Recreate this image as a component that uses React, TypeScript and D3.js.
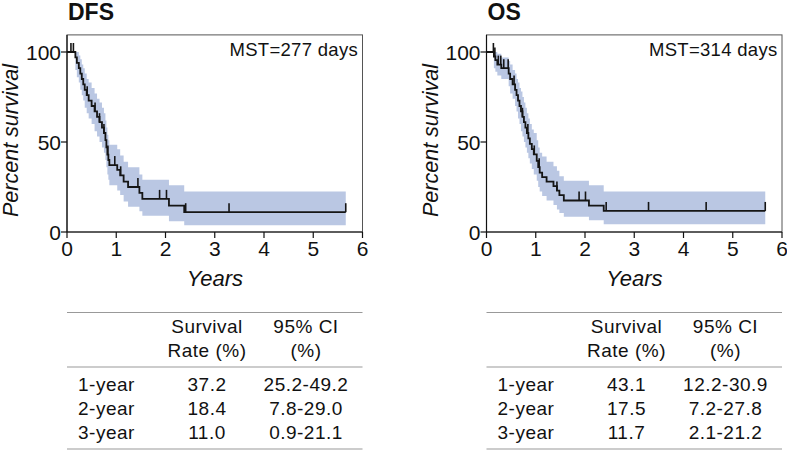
import React from "react";
import * as d3 from "d3";

const FONT = "'Liberation Sans', Arial, Helvetica, sans-serif";

// ---- DFS data ----
const dfsTimes = [0, 0.17, 0.2, 0.24, 0.27, 0.3, 0.33, 0.36, 0.4, 0.44, 0.5, 0.56, 0.61, 0.66, 0.71, 0.75, 0.78, 0.8, 0.82, 0.84, 0.86, 1.02, 1.08, 1.15, 1.24, 1.47, 1.53, 2.07, 2.38];
const dfsSurv = [100, 97, 94, 91, 88, 85, 82, 79, 76, 73, 70, 67, 64, 61, 58, 55, 51, 47, 43, 40, 37.2, 34.5, 31.5, 28, 25, 21.7, 18.4, 14.6, 11.0];
const dfsLower = [100, 90, 86, 83, 79, 76, 73, 69, 66, 63, 60, 56, 53, 50, 47, 44, 40, 36, 32, 29, 26, 23, 20.5, 17, 14, 11.5, 9, 6, 3.8];
const dfsUpper = [100, 100, 100, 98, 96, 93, 91, 88, 85, 83, 80, 77, 74, 72, 69, 66, 62, 58, 54, 51, 48.5, 46, 42.5, 39, 36, 32, 29, 26, 22.5];
const dfsCensor = [0.08, 0.13, 0.41, 0.57, 0.66, 0.75, 0.83, 0.97, 1.09, 1.44, 1.88, 2.02, 2.41, 3.29, 5.66];
const dfsEnd = 5.66;

// ---- OS data ----
const osTimes = [0, 0.15, 0.18, 0.22, 0.3, 0.45, 0.48, 0.53, 0.58, 0.61, 0.64, 0.67, 0.7, 0.73, 0.76, 0.79, 0.82, 0.85, 0.88, 0.92, 0.96, 1.02, 1.05, 1.08, 1.13, 1.22, 1.36, 1.43, 1.48, 1.57, 2.08, 2.38];
const osSurv = [100, 97.5, 95.5, 93, 91, 88, 85, 82, 79, 76, 73, 70, 67, 64, 61, 58, 55, 52, 49, 46, 43.1, 39.5, 36, 33, 30.5, 28, 25.5, 23, 20.5, 17.5, 14.6, 11.7];
const osLower = [100, 91, 89, 87, 85, 81, 77, 74, 70, 67, 63, 60, 56, 53, 50, 47, 44, 41, 38, 35, 32, 28.5, 25, 22.5, 20, 17.5, 15, 12.5, 10.5, 8.5, 6.5, 4.3];
const osUpper = [100, 100, 100, 99, 97, 95, 93, 90, 88, 85, 83, 80, 78, 75, 72, 69, 66, 63, 60, 57, 55, 51, 47, 44, 42, 39, 36.5, 34, 31, 28.5, 26, 22.5];
const osCensor = [0.14, 0.17, 0.24, 0.29, 0.35, 0.44, 0.56, 0.73, 0.84, 0.97, 1.07, 1.43, 1.88, 2.01, 2.43, 3.29, 4.46, 5.66];
const osEnd = 5.66;

// ---- ticks ----
const xTicks = [0, 1, 2, 3, 4, 5, 6];
const yTicks = [0, 50, 100];

// ---- tables ----
const rowLabels = ["1-year", "2-year", "3-year"];
const dfsRates = ["37.2", "18.4", "11.0"];
const dfsCI = ["25.2-49.2", "7.8-29.0", "0.9-21.1"];
const osRates = ["43.1", "17.5", "11.7"];
const osCI = ["12.2-30.9", "7.2-27.8", "2.1-21.2"];

type Pt = { t: number; s: number; lo: number; hi: number };

function Panel(props: {
  title: string; mst: string; times: number[]; surv: number[]; lower: number[]; upper: number[];
  censor: number[]; endT: number; x0: number; rates: string[]; cis: string[];
}) {
  const { title, mst, times, surv, lower, upper, censor, endT, x0, rates, cis } = props;
  const x = d3.scaleLinear().domain([0, 6]).range([x0, x0 + 295.5]);
  const y = d3.scaleLinear().domain([0, 100]).range([232, 52]);
  const pts: Pt[] = times.map((t, i) => ({ t, s: surv[i], lo: lower[i], hi: upper[i] }));
  const last = pts[pts.length - 1];
  pts.push({ t: endT, s: last.s, lo: last.lo, hi: last.hi });
  const line = d3.line<Pt>().x(d => x(d.t)).y(d => y(d.s)).curve(d3.curveStepAfter);
  const area = d3.area<Pt>().x(d => x(d.t)).y0(d => y(d.lo)).y1(d => y(d.hi)).curve(d3.curveStepAfter);
  const survAt = (t: number) => {
    const i = d3.bisectRight(times, t) - 1;
    return surv[Math.max(0, i)];
  };
  const frameTop = y(109.5);
  const right = x(6);
  const tblL = x0;
  const tblR = right;
  const c1 = x0 + 11;
  const c2 = x0 + 140;
  const c3 = x0 + 239;
  const rowY = [390.5, 414.5, 438.5];
  const ls = 0.5;
  return (
    <g fontFamily={FONT}>
      <text x={x0 + 1} y={20} fontSize={23} fontWeight="bold" fill="#111">{title}</text>
      <rect x={x0} y={frameTop} width={right - x0} height={y(0) - frameTop} fill="none" stroke="#555" strokeWidth={1} />
      <path d={area(pts) || ""} fill="#bac7e3" stroke="none" />
      <path d={line(pts) || ""} fill="none" stroke="#151515" strokeWidth={1.8} />
      {censor.map((c, i) => (
        <line key={i} x1={x(c)} x2={x(c)} y1={y(survAt(c))} y2={y(survAt(c)) - 9} stroke="#151515" strokeWidth={1.6} />
      ))}
      <line x1={x0} x2={x0} y1={frameTop} y2={y(0)} stroke="#111" strokeWidth={1.2} />
      <line x1={x0} x2={right} y1={y(0)} y2={y(0)} stroke="#111" strokeWidth={1.2} />
      {yTicks.map(v => (
        <g key={v}>
          <line x1={x0 - 6} x2={x0} y1={y(v)} y2={y(v)} stroke="#111" strokeWidth={1.2} />
          <text x={x0 - 6} y={y(v) + 7.5} fontSize={21} textAnchor="end" fill="#111">{v}</text>
        </g>
      ))}
      {xTicks.map(v => (
        <g key={v}>
          <line x1={x(v)} x2={x(v)} y1={y(0)} y2={y(0) + 6} stroke="#111" strokeWidth={1.2} />
          <text x={x(v)} y={256} fontSize={21} textAnchor="middle" fill="#111">{v}</text>
        </g>
      ))}
      <text x={x0 + 291} y={56} fontSize={18.5} letterSpacing={0.3} textAnchor="end" fill="#111">{mst}</text>
      <text transform={`translate(${x0 - 49},140.5) rotate(-90)`} fontSize={21.5} fontStyle="italic" textAnchor="middle" fill="#111">Percent survival</text>
      <text x={x0 + 148} y={286} fontSize={22} fontStyle="italic" textAnchor="middle" fill="#111">Years</text>
      {/* table */}
      <line x1={tblL} x2={tblR} y1={312.5} y2={312.5} stroke="#999" strokeWidth={1.2} />
      <line x1={tblL} x2={tblR} y1={367} y2={367} stroke="#999" strokeWidth={1.2} />
      <line x1={tblL} x2={tblR} y1={449} y2={449} stroke="#999" strokeWidth={1.2} />
      <text x={c2} y={333} fontSize={19} letterSpacing={ls} textAnchor="middle" fill="#111">Survival</text>
      <text x={c2} y={357} fontSize={19} letterSpacing={ls} textAnchor="middle" fill="#111">Rate (%)</text>
      <text x={c3} y={333} fontSize={19} letterSpacing={ls} textAnchor="middle" fill="#111">95% CI</text>
      <text x={c3} y={357} fontSize={19} letterSpacing={ls} textAnchor="middle" fill="#111">(%)</text>
      {rowLabels.map((r, i) => (
        <g key={r}>
          <text x={c1} y={rowY[i]} fontSize={19} letterSpacing={ls} fill="#111">{r}</text>
          <text x={c2} y={rowY[i]} fontSize={19} letterSpacing={ls} textAnchor="middle" fill="#111">{rates[i]}</text>
          <text x={c3} y={rowY[i]} fontSize={19} letterSpacing={ls} textAnchor="middle" fill="#111">{cis[i]}</text>
        </g>
      ))}
    </g>
  );
}

export default function App() {
  return (
    <div style={{ position: "fixed", left: 0, top: 0, width: 787, height: 450, background: "#fff" }}>
      <svg width={787} height={450} viewBox="0 0 787 450">
        <rect width={787} height={450} fill="#fff" />
        <Panel title="DFS" mst="MST=277 days" times={dfsTimes} surv={dfsSurv} lower={dfsLower} upper={dfsUpper}
          censor={dfsCensor} endT={dfsEnd} x0={67} rates={dfsRates} cis={dfsCI} />
        <Panel title="OS" mst="MST=314 days" times={osTimes} surv={osSurv} lower={osLower} upper={osUpper}
          censor={osCensor} endT={osEnd} x0={486.5} rates={osRates} cis={osCI} />
      </svg>
    </div>
  );
}
